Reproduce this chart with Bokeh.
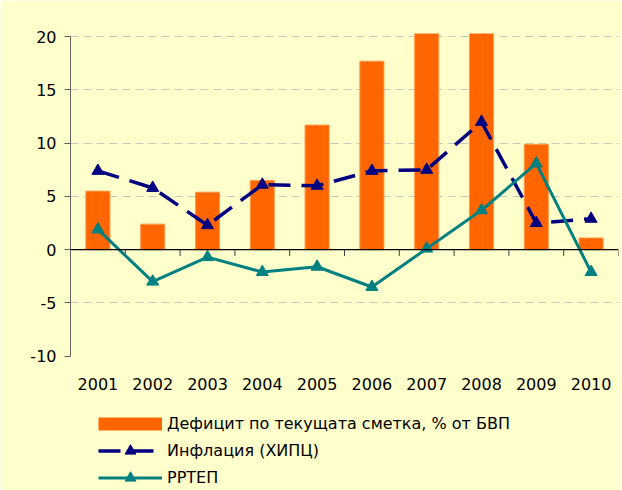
from bokeh.plotting import figure
from bokeh.models import (Range1d, FixedTicker, Span, Legend, LegendItem)
from bokeh.core.properties import value
from bokeh.embed import file_html
from bokeh.resources import INLINE

years = ["2001", "2002", "2003", "2004", "2005", "2006", "2007", "2008", "2009", "2010"]
deficit = [5.5, 2.4, 5.4, 6.5, 11.7, 17.7, 25.2, 23.0, 9.9, 1.1]
inflation = [7.4, 5.8, 2.3, 6.1, 6.0, 7.4, 7.5, 12.0, 2.5, 2.9]
rrtep = [1.9, -3.0, -0.7, -2.1, -1.6, -3.5, 0.1, 3.7, 8.1, -2.1]
y_ticks = [-10, -5, 0, 5, 10, 15, 20]
y_tick_labels = ["-10", "-5", "0", "5", "10", "15", "20"]
grid_ticks = [-5, 5, 10, 15, 20]
labels = ["Дефицит по текущата сметка, % от БВП", "Инфлация (ХИПЦ)", "РРТЕП"]

FONT = "DejaVu Sans"
BG = "#FFFFCC"
ORANGE, NAVY, TEAL = "#FF6600", "#000080", "#008080"

W, H = 622, 490
TOP, LEFT, RIGHT = 33, 70, 4
Y_MIN, Y_MAX = -10, 20.3
PX_PER_UNIT = 10.65
frame_h = H - TOP
y_bottom = Y_MAX - frame_h / PX_PER_UNIT          # frame extends below the axis to hold labels/legend


def y_at_px(py):
    """data y for a pixel row of the page"""
    return Y_MAX - (py - TOP) / PX_PER_UNIT


xs = list(range(1, len(years) + 1))
bounds = [x + 0.5 for x in xs]

p = figure(width=W, height=H, output_backend="svg", toolbar_location=None,
           x_range=Range1d(0.5, len(years) + 0.5), y_range=Range1d(y_bottom, Y_MAX),
           min_border_left=LEFT, min_border_right=RIGHT, min_border_top=TOP,
           min_border_bottom=0)
p.background_fill_color = BG
p.border_fill_color = BG
p.outline_line_color = None

# grid
p.xgrid.visible = False
p.ygrid.ticker = FixedTicker(ticks=grid_ticks)
p.ygrid.grid_line_color = "#C8C8C0"
p.ygrid.grid_line_dash = "8 5"
p.ygrid.grid_line_width = 1

# y axis
p.yaxis.bounds = (Y_MIN, 20)
p.yaxis.ticker = FixedTicker(ticks=y_ticks)
p.yaxis.major_label_overrides = {t: s for t, s in zip(y_ticks, y_tick_labels)}
p.yaxis.axis_line_color = "#606060"
p.yaxis.major_tick_line_color = "#606060"
p.yaxis.major_tick_out = 6
p.yaxis.major_tick_in = 0
p.yaxis.minor_tick_line_color = None
p.yaxis.major_label_text_font = FONT
p.yaxis.major_label_text_font_size = "16px"
p.yaxis.major_label_text_color = "black"
p.yaxis.major_label_standoff = 8

p.xaxis.visible = False

# zero line with category-boundary ticks
p.add_layout(Span(location=0, dimension="width", line_color="black", line_width=1.2))
p.segment(x0=bounds, y0=[0] * len(bounds), x1=bounds, y1=[-0.6] * len(bounds),
          line_color="#404040", line_width=1)

# category labels under the plot area
p.text(x=xs, y=[y_at_px(383)] * len(xs), text=years, text_align="center",
       text_baseline="middle", text_font=value(FONT), text_font_size="16px",
       text_color="black")

bars = p.vbar(x=xs, top=deficit, width=0.44, bottom=0, fill_color=ORANGE,
              line_color="#FF9A4D", line_width=1)
# legend swatch for the bars (draws nothing in the plot, legend only)
nan = float("nan")
bar_key = p.line(x=[nan], y=[nan], line_color=ORANGE, line_width=13, line_cap="butt")

l1 = p.line(xs, inflation, line_color=NAVY, line_width=3.5, line_dash="22 11")
s1 = p.scatter(xs, inflation, marker="triangle", size=12, fill_color=NAVY,
               line_color=NAVY)
l2 = p.line(xs, rrtep, line_color=TEAL, line_width=3)
s2 = p.scatter(xs, rrtep, marker="triangle", size=12, fill_color=TEAL,
               line_color=TEAL)

legend = Legend(items=[LegendItem(label=labels[0], renderers=[bar_key]),
                       LegendItem(label=labels[1], renderers=[l1, s1]),
                       LegendItem(label=labels[2], renderers=[l2, s2])],
                location=(28, -1), orientation="vertical",
                glyph_width=64, glyph_height=27, label_height=27,
                label_standoff=5, spacing=0, padding=0, margin=0,
                border_line_alpha=0, background_fill_alpha=0,
                label_text_font=FONT, label_text_font_size="16px",
                label_text_color="black")
p.add_layout(legend)

open("out.html", "w").write(file_html(p, INLINE))
